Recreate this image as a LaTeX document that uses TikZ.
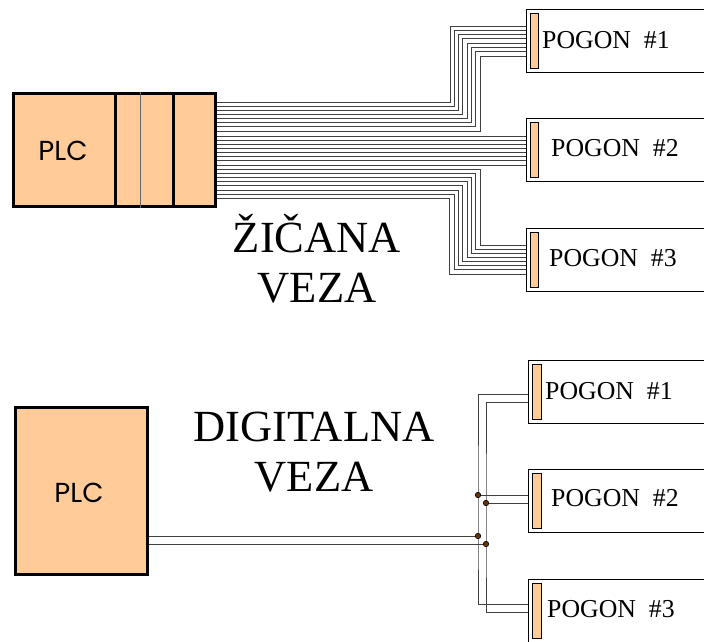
\documentclass[tikz,border=0pt]{standalone}
\usepackage{fontspec}
\setmainfont{Liberation Serif}
\newfontfamily\plcfont{Poppins}
\usetikzlibrary{positioning, calc}
\definecolor{plcfill}{HTML}{FFCC99}
\definecolor{dotfill}{HTML}{663300}

\begin{document}
\begin{tikzpicture}[
      x=1pt, y=-1pt,
      plc/.style={rectangle, draw, line width=3pt, fill=plcfill, inner sep=0pt},
      plctext/.style={font=\plcfont\fontsize{27.5}{30}\selectfont},
      pogon/.style={rectangle, draw, line width=1pt, fill=white, inner sep=0pt, minimum width=200pt, minimum height=63pt},
      bar/.style={rectangle, draw, line width=1pt, fill=plcfill, inner sep=0pt, minimum width=8.5pt, minimum height=55pt},
      pogontext/.style={font=\fontsize{25.8}{28}\selectfont, inner sep=0pt},
      title/.style={font=\fontsize{44.5}{50}\selectfont, align=center, inner sep=0pt},
      wire/.style={line width=1pt, black!75},
      joint/.style={circle, draw, line width=0.6pt, fill=dotfill, inner sep=0pt, minimum size=5.5pt}
    ]
    \useasboundingbox (0,0) rectangle (704,641);
    \clip (0,0) rectangle (704,641);

    % zicana veza
    \node[plc, minimum width=202pt, minimum height=113pt] (plca) at (114.5,150) {};
    \draw[line width=3pt] (plca.north -| 115,0) -- (plca.south -| 115,0);
    \draw[line width=1pt, black!60] (plca.north -| 140,0) -- (plca.south -| 140,0);
    \draw[line width=3pt] (plca.north -| 173,0) -- (plca.south -| 173,0);
    \node[plctext] (plcatext) at (63,151) {PLC};

    \node[pogon] (pogona) at (626,40.5) {};
    \node[pogon] (pogonb) at (626,149.5) {};
    \node[pogon] (pogonc) at (626,259.5) {};
    \node[bar] (bara) at (534.5,40.5) {};
    \node[bar] (barb) at (534.5,150) {};
    \node[bar] (barc) at (534.5,259.5) {};
    \node[pogontext, anchor=west] (texta) at (542,40) {POGON\ \ \#1};
    \node[pogontext, anchor=west] (textb) at (551,148) {POGON\ \ \#2};
    \node[pogontext, anchor=west] (textc) at (549,258) {POGON\ \ \#3};

    \foreach \i in {0,...,7} {
      \pgfmathsetmacro{\ya}{102+4.15*\i}
      \pgfmathsetmacro{\yb}{26+4.3*\i}
      \pgfmathsetmacro{\yc}{136+4.15*\i}
      \pgfmathsetmacro{\yd}{169+4.2*\i}
      \pgfmathsetmacro{\ye}{245+4.15*\i}
      \pgfmathsetmacro{\xa}{450+4.3*\i}
      \pgfmathsetmacro{\xb}{480-4.3*\i}
      \draw[wire] (plca.east |- 0,\ya) -- (\xa,\ya) -- (\xa,\yb) -- (pogona.west |- 0,\yb);
      \draw[wire] (plca.east |- 0,\yc) -- (pogonb.west |- 0,\yc);
      \draw[wire] (plca.east |- 0,\yd) -- (\xb,\yd) -- (\xb,\ye) -- (pogonc.west |- 0,\ye);
    }

    \node[title] (titlea) at (317,259) {ŽIČANA\\VEZA};

    % digitalna veza
    \node[plc, minimum width=132pt, minimum height=167pt] (plcb) at (81,491) {};
    \node[plctext] (plcbtext) at (79,493) {PLC};

    \node[pogon] (pogond) at (628,391.5) {};
    \node[pogon] (pogone) at (628,501) {};
    \node[pogon] (pogonf) at (628,611) {};
    \node[bar] (bard) at (537,391.5) {};
    \node[bar] (bare) at (537,500.5) {};
    \node[bar] (barf) at (537,610.5) {};
    \node[pogontext, anchor=west] (textd) at (545,391) {POGON\ \ \#1};
    \node[pogontext, anchor=west] (texte) at (551,498) {POGON\ \ \#2};
    \node[pogontext, anchor=west] (textf) at (547,609) {POGON\ \ \#3};

    \coordinate (ja) at (478,495);
    \coordinate (jb) at (486,503);
    \coordinate (jc) at (478,536);
    \coordinate (jd) at (486,544);

    \draw[wire] (pogond.west |- 0,394) -| (ja) -- (jc) |- (pogonf.west |- 0,604);
    \draw[wire] (pogond.west |- 0,402) -| (jb) -- (jd) |- (pogonf.west |- 0,612);
    \draw[wire] (ja) -- (pogone.west |- ja);
    \draw[wire] (jb) -- (pogone.west |- jb);
    \draw[wire] (plcb.east |- jc) -- (jc);
    \draw[wire] (plcb.east |- jd) -- (jd);

    \foreach \j in {ja,jb,jc,jd}
      \node[joint] (dot\j) at (\j) {};

    \node[title] (titleb) at (314,452) {DIGITALNA\\VEZA};
  \end{tikzpicture}
\end{document}
